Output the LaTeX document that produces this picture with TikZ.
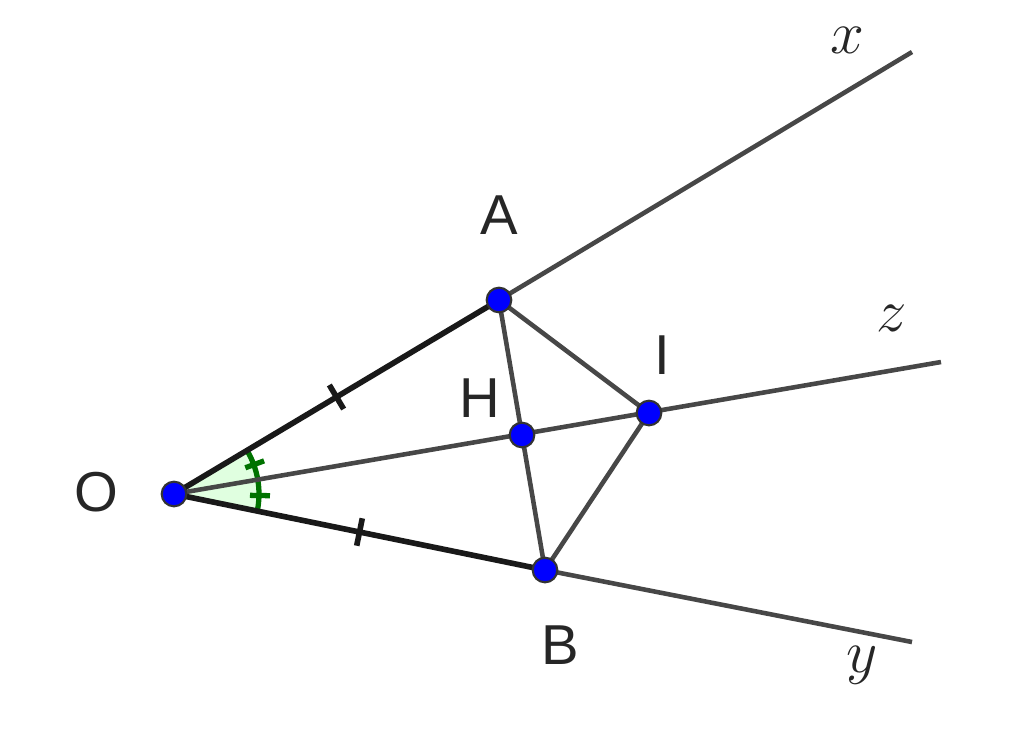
\documentclass[tikz,border=0pt]{standalone}
\usetikzlibrary{calc}
\usepackage{fontspec}
\setsansfont{Liberation Sans}
\begin{document}
\begin{tikzpicture}[x=0.01cm,y=-0.01cm,
 ray/.style={draw=black!72,line width=1.3pt},
 seg/.style={draw=black!90,line width=1.6pt},
 pt/.style={circle,fill=blue,draw=black!80,line width=0.6pt,inner sep=0pt,minimum size=7pt},
 lab/.style={font=\sffamily\fontsize{16}{16}\selectfont,text=black!85},
 mlab/.style={font=\fontsize{19}{19}\selectfont,text=black!85},
 gmark/.style={draw=green!45!black,line width=1.5pt}]
\useasboundingbox (0,0) rectangle (1024,729);
\coordinate (O) at (174,494);
\coordinate (A) at (499,300);
\coordinate (B) at (545,570);
\coordinate (H) at (522,435);
\coordinate (I) at (649,413);
\coordinate (X) at (912,52);
\coordinate (Z) at (941,362);
\coordinate (Y) at (912,642);
% angle marks
\fill[green!40!white,opacity=0.3] (O) -- ++(-30.8:85) arc[start angle=-30.8,end angle=11.6,radius=85] -- cycle;
\draw[gmark] (O) ++(-30.8:85) arc[start angle=-30.8,end angle=11.6,radius=85];
\draw[gmark] (O) ++(-20.2:76) -- ++(-20.2:20);
\draw[gmark] (O) ++(1:76) -- ++(1:20);
\draw[ray] (A) -- (X);
\draw[ray] (B) -- (Y);
\draw[ray] (O) -- (Z);
\draw[ray] (A) -- (B);
\draw[ray] (A) -- (I);
\draw[ray] (I) -- (B);
\draw[seg] (O) -- (A);
\draw[seg] (O) -- (B);
% equal ticks
\draw[seg] ($(O)!0.5!(A)$) ++(-120.8:14) -- ++(59.2:28);
\draw[seg] ($(O)!0.5!(B)$) ++(-78.4:14) -- ++(101.6:28);
\node[pt] (o) at (O) {};
\node[pt] (a) at (A) {};
\node[pt] (b) at (B) {};
\node[pt] (h) at (H) {};
\node[pt] (i) at (I) {};
\node[lab] at (96,492) {O};
\node[lab] at (499,215) {A};
\node[lab] at (560,645) {B};
\node[lab] at (480,398) {H};
\node[lab] at (662,355) {I};
\node[mlab] at (847,40) {$x$};
\node[mlab] at (892,318) {$z$};
\node[mlab] at (862,665) {$y$};
\end{tikzpicture}
\end{document}
